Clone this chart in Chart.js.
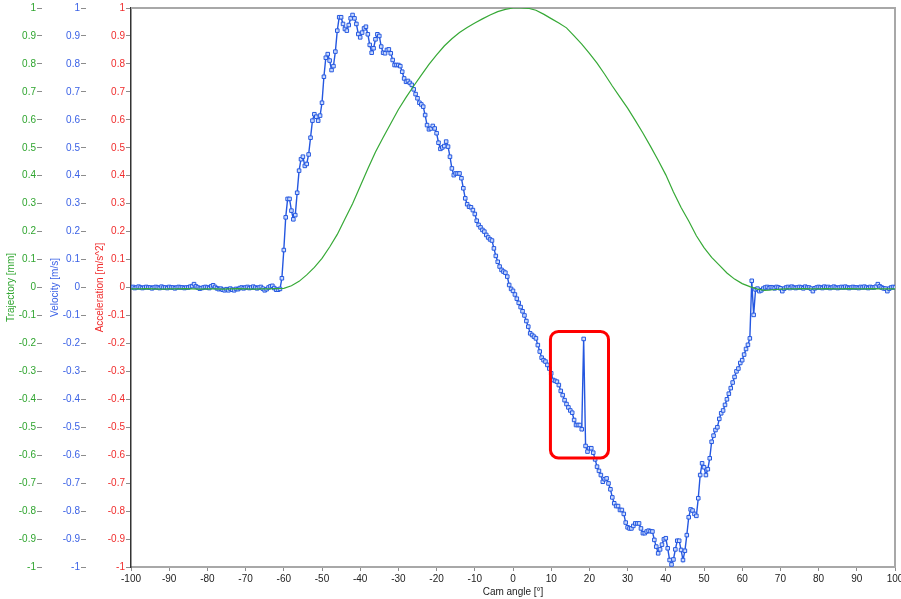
<!DOCTYPE html>
<html>
<head>
<meta charset="utf-8">
<title>Cam motion</title>
<script src="https://cdn.jsdelivr.net/npm/chart.js@4.4.0/dist/chart.umd.min.js"></script>
<style>
  html, body { margin: 0; padding: 0; background: #fff; }
  #wrap { width: 901px; height: 599px; position: relative; }
</style>
</head>
<body>
<div id="wrap"><canvas id="cam"></canvas></div>
<script>
// x axis ticks (cam angle, degrees) and shared level ticks for the three y axes
const angleTicks = [-100, -90, -80, -70, -60, -50, -40, -30, -20, -10, 0, 10, 20, 30, 40, 50, 60, 70, 80, 90, 100];
const levelTicks = [1, 0.9, 0.8, 0.7, 0.6, 0.5, 0.4, 0.3, 0.2, 0.1, 0, -0.1, -0.2, -0.3, -0.4, -0.5, -0.6, -0.7, -0.8, -0.9, -1];

// trajectory, sampled every 2 degrees from -100 to 100
const TRAJ_START = -100, TRAJ_STEP = 2;
const trajectory = [
  -0.005, -0.005, -0.004, -0.005, -0.006, -0.005, -0.005, -0.004, -0.005, -0.006,
  -0.005, -0.005, -0.006, -0.005, -0.004, -0.005, -0.006, -0.005, -0.005, -0.004,
  -0.003, 0.006, 0.022, 0.045, 0.072, 0.104, 0.145, 0.19, 0.245, 0.30,
  0.362, 0.425, 0.485, 0.537, 0.587, 0.637, 0.68, 0.721, 0.76, 0.798,
  0.832, 0.864, 0.89, 0.912, 0.93, 0.946, 0.961, 0.975, 0.987, 0.995,
  1.0, 1.0, 0.999, 0.992, 0.978, 0.962, 0.946, 0.929, 0.9, 0.871,
  0.838, 0.803, 0.763, 0.721, 0.681, 0.642, 0.598, 0.553, 0.505, 0.455,
  0.403, 0.342, 0.286, 0.238, 0.185, 0.143, 0.108, 0.08, 0.052, 0.03,
  0.014, 0.003, -0.006, -0.01, -0.008, -0.006, -0.005, -0.005, -0.004, -0.005,
  -0.005, -0.004, -0.005, -0.005, -0.004, -0.005, -0.005, -0.004, -0.005, -0.005,
  -0.005
];

// velocity, sampled every 0.5 degrees from -100 to 100 (one row = 5 degrees)
const VEL_START = -100, VEL_STEP = 0.5;
const velocity = [
  0, 0.002, -0.002, 0, 0.003, 0, -0.002, 0, 0.002, 0,
  0, -0.003, 0, 0.002, 0, -0.002, 0.003, 0, 0, -0.002,
  0.002, 0, 0, -0.003, 0, 0.002, 0, 0, -0.002, 0,
  0, 0.003, 0.005, 0.012, 0.004, 0, -0.004, -0.002, 0, 0.002,
  0, -0.002, 0.004, 0.008, 0.002, -0.003, -0.006, -0.004, -0.008, -0.01,
  -0.006, -0.01, -0.004, -0.008, -0.01, -0.005, -0.006, -0.002, 0, -0.003,
  0, 0.002, -0.002, 0, 0.003, 0, -0.003, 0, 0.002, -0.004,
  -0.01, -0.006, 0, 0.004, 0.006, -0.002, -0.008, -0.008, -0.005, 0.033,
  0.134, 0.251, 0.317, 0.317, 0.275, 0.244, 0.259, 0.339, 0.418, 0.459,
  0.468, 0.435, 0.442, 0.476, 0.536, 0.597, 0.620, 0.611, 0.597, 0.615,
  0.661, 0.754, 0.822, 0.835, 0.812, 0.778, 0.792, 0.844, 0.919, 0.967,
  0.967, 0.943, 0.925, 0.919, 0.939, 0.963, 0.975, 0.963, 0.943, 0.907,
  0.895, 0.912, 0.927, 0.933, 0.906, 0.868, 0.840, 0.856, 0.888, 0.906,
  0.900, 0.862, 0.840, 0.838, 0.850, 0.852, 0.838, 0.814, 0.796, 0.796,
  0.796, 0.792, 0.772, 0.748, 0.736, 0.739, 0.732, 0.725, 0.709, 0.692,
  0.677, 0.661, 0.655, 0.647, 0.617, 0.581, 0.566, 0.569, 0.578, 0.569,
  0.552, 0.518, 0.496, 0.501, 0.506, 0.522, 0.504, 0.468, 0.426, 0.402,
  0.408, 0.408, 0.408, 0.391, 0.355, 0.319, 0.298, 0.289, 0.287, 0.277,
  0.263, 0.239, 0.224, 0.215, 0.206, 0.200, 0.188, 0.179, 0.172, 0.168,
  0.140, 0.113, 0.092, 0.075, 0.063, 0.057, 0.053, 0.039, 0.009, -0.005,
  -0.012, -0.025, -0.04, -0.055, -0.07, -0.085, -0.10, -0.12, -0.14, -0.164,
  -0.170, -0.176, -0.182, -0.206, -0.229, -0.251, -0.26, -0.265, -0.277, -0.29,
  -0.307, -0.331, -0.334, -0.337, -0.349, -0.370, -0.385, -0.403, -0.417, -0.429,
  -0.44, -0.448, -0.474, -0.492, -0.492, -0.492, -0.507, -0.184, -0.567, -0.587,
  -0.575, -0.575, -0.591, -0.615, -0.641, -0.656, -0.671, -0.695, -0.686, -0.683,
  -0.701, -0.722, -0.751, -0.772, -0.782, -0.782, -0.796, -0.796, -0.810, -0.841,
  -0.858, -0.862, -0.862, -0.853, -0.844, -0.844, -0.844, -0.862, -0.879, -0.879,
  -0.873, -0.870, -0.872, -0.873, -0.903, -0.927, -0.951, -0.937, -0.920, -0.901,
  -0.897, -0.933, -0.975, -0.991, -0.973, -0.937, -0.906, -0.906, -0.939, -0.975,
  -0.942, -0.886, -0.822, -0.794, -0.798, -0.810, -0.817, -0.754, -0.671, -0.629,
  -0.643, -0.671, -0.650, -0.611, -0.552, -0.53, -0.51, -0.50, -0.47, -0.45,
  -0.44, -0.42, -0.40, -0.38, -0.36, -0.34, -0.32, -0.30, -0.29, -0.27,
  -0.26, -0.24, -0.22, -0.205, -0.182, 0.024, -0.098, -0.007, -0.004, -0.013,
  -0.01, -0.004, 0, 0.002, -0.002, 0.001, 0, -0.003, 0.002, 0,
  -0.003, -0.013, -0.004, 0, 0.002, -0.002, 0.003, 0, -0.002, 0,
  0.002, 0, -0.003, 0.003, 0, 0, -0.004, -0.013, -0.003, 0,
  0.002, 0, -0.002, 0.003, 0, 0.002, -0.002, 0, 0.003, 0,
  -0.002, 0, 0.002, 0, 0.003, 0, -0.002, 0, 0.002, 0,
  0, -0.002, 0.002, 0, 0.003, 0, -0.002, 0.002, 0, 0,
  0.003, 0.012, 0.004, 0, -0.003, -0.004, -0.013, -0.004, 0, 0.002,
  0
];

// highlighted region around the velocity spike (angle range, level range)
const spikeBoxAngles = [9.8, 25.0];
const spikeBoxLevels = [-0.61, -0.157];

const toPoints = (values, start, step) => values.map((v, i) => ({ x: start + i * step, y: v }));

const tickFont = { family: '"Liberation Sans", Arial, sans-serif', size: 10 };

function levelAxis(color, title, weight, titlePad, boxWidth, showBorder) {
  return {
    type: 'linear',
    position: 'left',
    weight: weight,
    min: -1,
    max: 1,
    afterBuildTicks: scale => { scale.ticks = levelTicks.map(v => ({ value: v })); },
    afterFit: scale => { scale.width = boxWidth; },
    ticks: {
      color: color,
      font: tickFont,
      padding: 1,
      autoSkip: false,
      callback: v => String(Number(v.toFixed(1)))
    },
    grid: { drawOnChartArea: false, drawTicks: true, tickLength: 5, color: '#8c8c8c' },
    border: { display: showBorder, color: '#333333', width: 1.5 },
    title: { display: true, text: title, color: color, font: tickFont, padding: { top: titlePad, bottom: 0 } }
  };
}

// grey frame on top and right of the plot area
const plotFrame = {
  id: 'plotFrame',
  beforeDatasetsDraw(chart) {
    const { ctx, chartArea: a } = chart;
    ctx.save();
    ctx.strokeStyle = '#a8a8a8';
    ctx.lineWidth = 2;
    ctx.beginPath();
    ctx.moveTo(a.left, a.top);
    ctx.lineTo(a.right, a.top);
    ctx.lineTo(a.right, a.bottom);
    ctx.stroke();
    ctx.restore();
  }
};

// red rounded box around the spike
const spikeBox = {
  id: 'spikeBox',
  afterDatasetsDraw(chart) {
    const { ctx, scales } = chart;
    const x0 = scales.x.getPixelForValue(spikeBoxAngles[0]);
    const x1 = scales.x.getPixelForValue(spikeBoxAngles[1]);
    const y0 = scales.velocity.getPixelForValue(spikeBoxLevels[1]);
    const y1 = scales.velocity.getPixelForValue(spikeBoxLevels[0]);
    ctx.save();
    ctx.strokeStyle = '#ff0000';
    ctx.lineWidth = 3;
    ctx.beginPath();
    ctx.roundRect(x0, y0, x1 - x0, y1 - y0, 8);
    ctx.stroke();
    ctx.restore();
  }
};

new Chart(document.getElementById('cam'), {
  type: 'line',
  data: {
    datasets: [
      {
        label: 'Trajectory',
        data: toPoints(trajectory, TRAJ_START, TRAJ_STEP),
        yAxisID: 'trajectory',
        borderColor: '#36a936',
        borderWidth: 1.2,
        pointRadius: 0,
        tension: 0
      },
      {
        label: 'Velocity',
        data: toPoints(velocity, VEL_START, VEL_STEP),
        yAxisID: 'velocity',
        borderColor: '#2457e0',
        borderWidth: 1.4,
        pointStyle: 'rect',
        pointRadius: 2.5,
        pointBorderWidth: 1,
        pointBorderColor: '#2457e0',
        pointBackgroundColor: 'rgba(215,228,255,0.9)',
        tension: 0
      }
    ]
  },
  options: {
    responsive: true,
    maintainAspectRatio: false,
    animation: false,
    layout: { padding: { top: 8, right: 6, left: 0, bottom: 0 } },
    plugins: {
      legend: { display: false },
      tooltip: { enabled: false }
    },
    scales: {
      x: {
        type: 'linear',
        min: -100,
        max: 100,
        afterBuildTicks: scale => { scale.ticks = angleTicks.map(v => ({ value: v })); },
        afterFit: scale => {
          scale.height = 32;
          scale.paddingLeft = 0;
          scale.paddingRight = 0;
        },
        ticks: { color: '#222222', font: tickFont, padding: 2, maxRotation: 0, autoSkip: false },
        grid: { drawOnChartArea: false, tickLength: 4, color: '#8c8c8c' },
        border: { color: '#a8a8a8', width: 2 },
        title: { display: true, text: 'Cam angle [°]', color: '#222222', font: tickFont, padding: { top: 0, bottom: 1 } }
      },
      trajectory: levelAxis('#2fa52f', 'Trajectory [mm]', 2, 5, 42, false),
      velocity: levelAxis('#3b62e6', 'Velocity [m/s]', 1, 7, 44, false),
      acceleration: levelAxis('#f02c2c', 'Acceleration [m/s^2]', 0, 8, 45, true)
    }
  },
  plugins: [plotFrame, spikeBox]
});
</script>
</body>
</html>
